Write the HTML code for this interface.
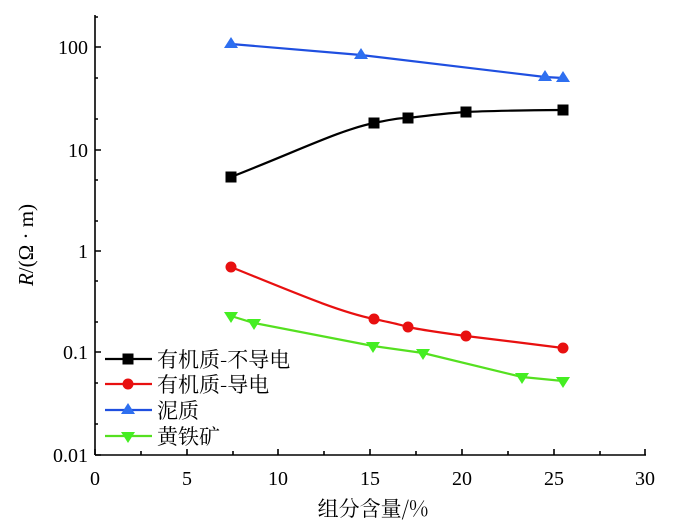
<!DOCTYPE html>
<html><head><meta charset="utf-8"><style>body{margin:0;background:#fff}</style></head>
<body>
<svg width="700" height="524" viewBox="0 0 700 524" xmlns="http://www.w3.org/2000/svg" font-family="Liberation Serif, Noto Serif CJK SC, serif">
<g stroke="#000" stroke-width="1.6" fill="none">
<line x1="95" y1="15" x2="95" y2="455"/>
<line x1="95" y1="455" x2="646" y2="455"/>
<path d="M95 47h6M95 150h6M95 251h6M95 352h6M95 455h6"/>
<path d="M95 424h3M95 383h3M95 322h3M95 281h3M95 221h3M95 180h3M95 119h3M95 78h3M95 17h3"/>
<path d="M95 455v-6M187 455v-6M278 455v-6M370 455v-6M462 455v-6M554 455v-6M645 455v-6"/>
<path d="M141 455v-4M233 455v-4M324 455v-4M416 455v-4M508 455v-4M600 455v-4"/>
</g>
<g font-size="20" text-anchor="end" fill="#000">
<text x="88" y="54">100</text><text x="88" y="157">10</text><text x="88" y="258">1</text><text x="88" y="359">0.1</text><text x="88" y="462">0.01</text>
</g>
<g font-size="20" text-anchor="middle" fill="#000">
<text x="95" y="485">0</text><text x="187" y="485">5</text><text x="278" y="485">10</text><text x="370" y="485">15</text><text x="462" y="485">20</text><text x="554" y="485">25</text><text x="645" y="485">30</text>
</g>
<text x="373" y="516" font-size="21" text-anchor="middle" font-family="Noto Serif CJK SC, serif">组分含量/%</text>
<text transform="translate(33,245) rotate(-90)" font-size="21" text-anchor="middle"><tspan font-style="italic">R</tspan>/(Ω · m)</text>

<polyline fill="none" stroke="#1f4fe0" stroke-width="2.2" points="231,44 361,55 545,77 563,78"/>
<g fill="#2e6ff0"><path d="M231 37l7 11h-14z"/><path d="M361 48l7 11h-14z"/><path d="M545 70l7 11h-14z"/><path d="M563 71l7 11h-14z"/></g>

<path fill="none" stroke="#000" stroke-width="2.2" d="M231 177 C300 150 340 130 374 123 S400 119 408 118 S450 113 466 112 S540 110 563 110"/>
<g fill="#000"><rect x="225.5" y="171.5" width="11" height="11"/><rect x="368.5" y="117.5" width="11" height="11"/><rect x="402.5" y="112.5" width="11" height="11"/><rect x="460.5" y="106.5" width="11" height="11"/><rect x="557.5" y="104.5" width="11" height="11"/></g>

<path fill="none" stroke="#e81010" stroke-width="2.2" d="M231 267 C300 295 340 312 374 319 S400 325 408 327 S450 334 466 336 S540 345 563 348"/>
<g fill="#e81010"><circle cx="231" cy="267" r="5.5"/><circle cx="374" cy="319" r="5.5"/><circle cx="408" cy="327" r="5.5"/><circle cx="466" cy="336" r="5.5"/><circle cx="563" cy="348" r="5.5"/></g>

<polyline fill="none" stroke="#55e020" stroke-width="2.2" points="231,316 254,323 373,346 423,353 522,377 563,381"/>
<g fill="#44ee22"><path d="M231 323l7-11h-14z"/><path d="M254 330l7-11h-14z"/><path d="M373 353l7-11h-14z"/><path d="M423 360l7-11h-14z"/><path d="M522 384l7-11h-14z"/><path d="M563 388l7-11h-14z"/></g>

<g stroke-width="2.2">
<line x1="105" y1="359" x2="152" y2="359" stroke="#000"/><rect x="122.5" y="353.5" width="11" height="11" fill="#000"/>
<line x1="105" y1="384" x2="152" y2="384" stroke="#e81010"/><circle cx="128" cy="384" r="5.5" fill="#e81010"/>
<line x1="105" y1="410" x2="152" y2="410" stroke="#1f4fe0"/><path d="M128 403l7 11h-14z" fill="#2e6ff0"/>
<line x1="105" y1="436" x2="152" y2="436" stroke="#55e020"/><path d="M128 443l7-11h-14z" fill="#44ee22"/>
</g>
<g font-size="21" font-family="Noto Serif CJK SC, serif" fill="#000">
<text x="157" y="367">有机质-不导电</text><text x="157" y="392">有机质-导电</text><text x="157" y="418">泥质</text><text x="157" y="444">黄铁矿</text>
</g>
</svg>
</body></html>
